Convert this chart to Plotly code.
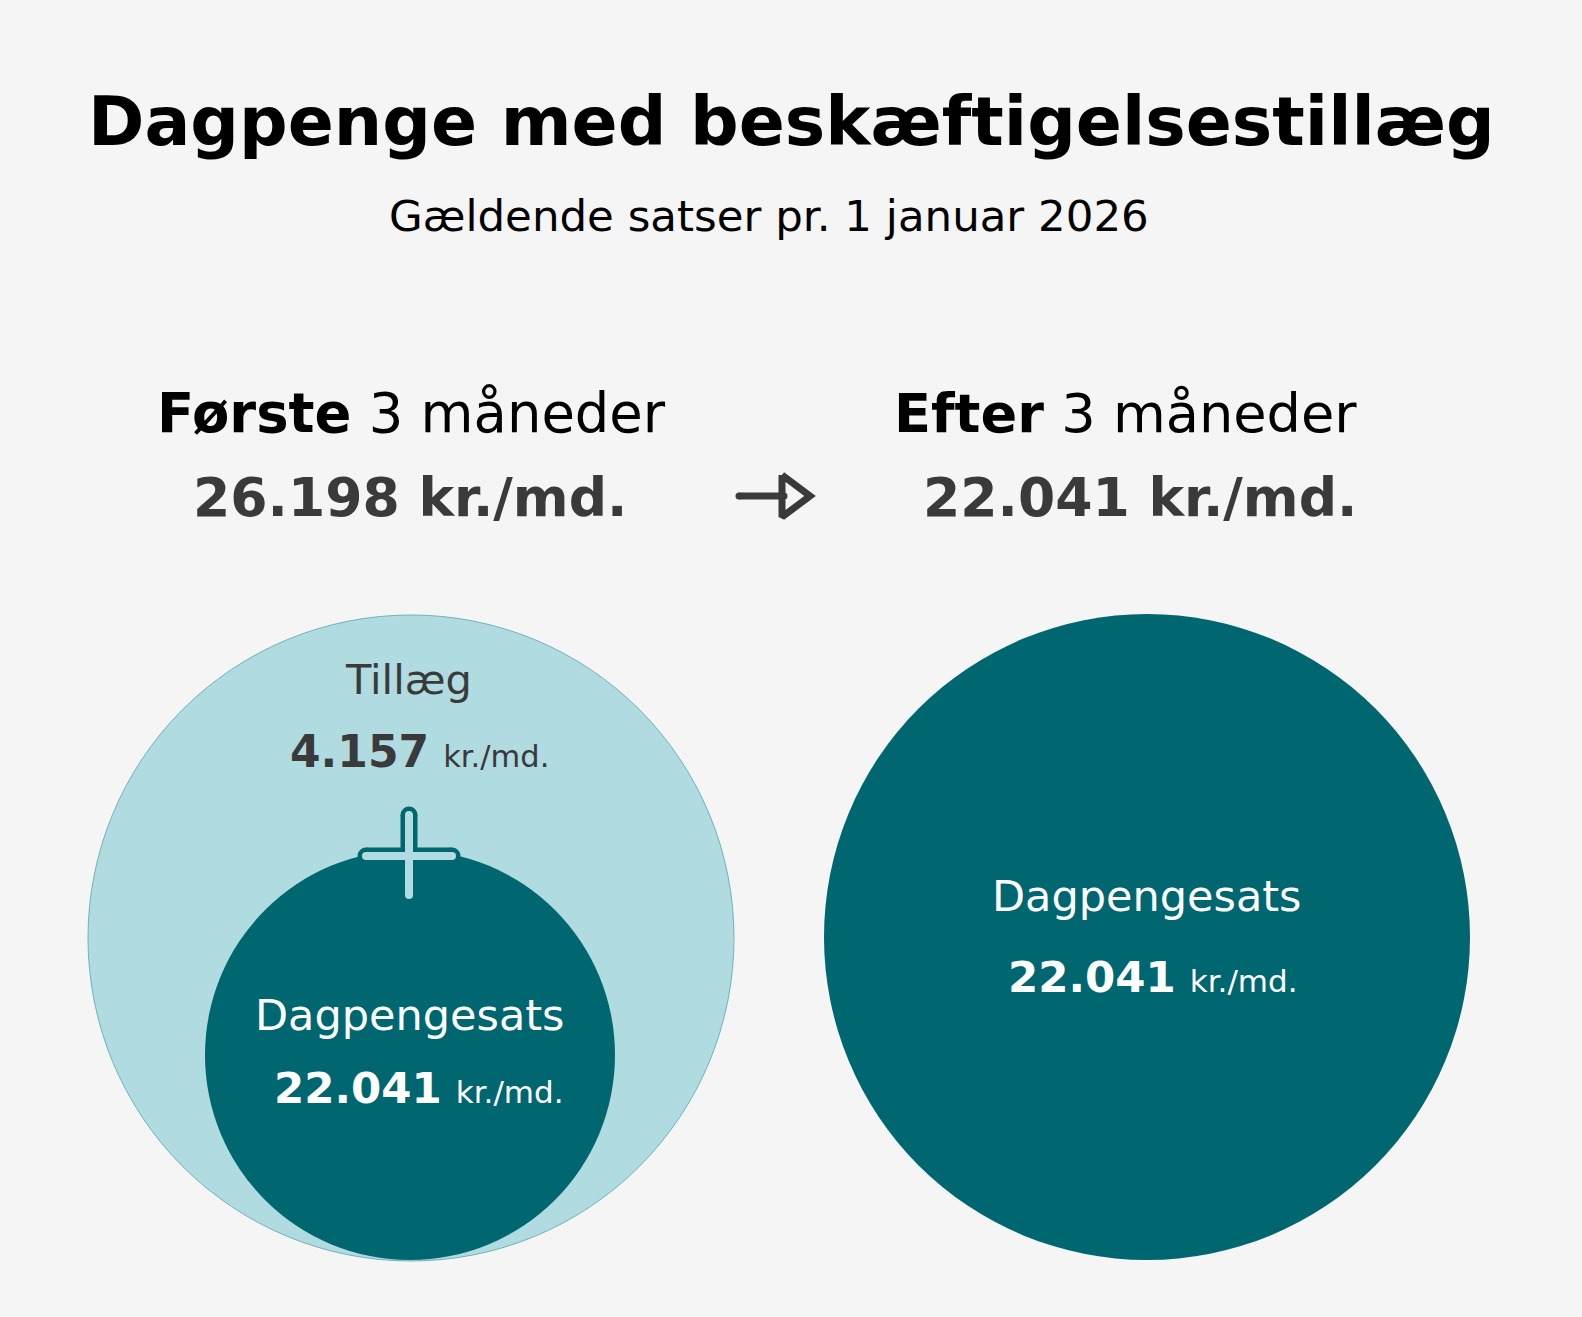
import plotly.graph_objects as go

# ---- data ----
periods = ["Første", "Efter"]
period_rest = "3 måneder"
totals = [26198, 22041]
dagpengesats = [22041, 22041]
tillaeg = [4157]
unit = "kr./md."
title = "Dagpenge med beskæftigelsestillæg"
subtitle = "Gældende satser pr. 1 januar 2026"
lbl_tillaeg = "Tillæg"
lbl_dagpenge = "Dagpengesats"

def fmt(v):
    return f"{v:,}".replace(",", ".")

# ---- layout constants ----
W, H = 1582, 1317
BG = "#f5f5f5"
LIGHT = "#b0dbe0"
DARK = "#006670"
GREY = "#3a3a3a"
FONT = "DejaVu Sans"

fig = go.Figure()
fig.update_layout(
    width=W, height=H, margin=dict(l=0, r=0, t=0, b=0),
    paper_bgcolor=BG, plot_bgcolor=BG, showlegend=False,
    xaxis=dict(range=[0, W], visible=False, fixedrange=True),
    yaxis=dict(range=[H, 0], visible=False, fixedrange=True),
    font=dict(family=FONT),
)

def circ(cx, cy, r, fill, line_color=None, lw=0):
    fig.add_shape(type="circle", xref="x", yref="y",
                  x0=cx - r, x1=cx + r, y0=cy - r, y1=cy + r,
                  fillcolor=fill, line=dict(color=line_color or fill, width=lw),
                  layer="below")

# circles
circ(411, 938, 323, LIGHT, "#6fb3ba", 1)
circ(410, 1055, 205, DARK)
circ(1147, 937, 323, DARK)

# plus sign (outlined)
def seg(xs, ys, color, w):
    fig.add_trace(go.Scatter(x=xs, y=ys, mode="lines+markers",
                             line=dict(color=color, width=w),
                             marker=dict(color=color, size=w, line=dict(width=0)),
                             hoverinfo="skip"))
px, py = 409, 856
seg([px, px], [815, 895], DARK, 17)
seg([366, 452], [py, py], DARK, 17)
seg([px, px], [815, 895], LIGHT, 8)
seg([366, 452], [py, py], LIGHT, 8)

# arrow
fig.add_trace(go.Scatter(x=[739, 784], y=[496, 496], mode="lines+markers",
                         line=dict(color=GREY, width=7),
                         marker=dict(color=GREY, size=7), hoverinfo="skip"))
fig.add_trace(go.Scatter(x=[782, 782, 810, 782], y=[475, 517, 496, 475], mode="lines",
                         line=dict(color=GREY, width=7), hoverinfo="skip"))

def txt(x, baseline, text, size, color="#000000"):
    fig.add_annotation(x=x, y=baseline - 2 - 0.34 * size, xref="x", yref="y",
                       text=text, showarrow=False, xanchor="center", yanchor="middle",
                       font=dict(size=size, color=color, family=FONT))

def val_line(v, big, small):
    return f"<b>{fmt(v)}</b> <span style='font-size:{small}px'>{unit}</span>"

txt(791, 147, f"<b>{title}</b>", 68)
txt(769, 233, subtitle, 43.5)

txt(411, 434, f"<b>{periods[0]}</b> {period_rest}", 54.4)
txt(410, 518, f"<b>{fmt(totals[0])} {unit}</b>", 53.6, GREY)
txt(1125, 434, f"<b>{periods[1]}</b> {period_rest}", 54.2)
txt(1140, 518, f"<b>{fmt(totals[1])} {unit}</b>", 53.6, GREY)

txt(408, 696, lbl_tillaeg, 41.5, GREY)
txt(419, 768, val_line(tillaeg[0], 44, 30.5), 44, GREY)
txt(410, 1032, lbl_dagpenge, 43, "#ffffff")
txt(419, 1105, val_line(dagpengesats[0], 43.5, 31), 43.5, "#ffffff")
txt(1147, 913, lbl_dagpenge, 43, "#ffffff")
txt(1153, 994, val_line(dagpengesats[1], 43.5, 31), 43.5, "#ffffff")

fig.write_html("out.html", config={"displayModeBar": False},
               post_script="document.body.style.margin='0';document.body.style.background='#f5f5f5';")
